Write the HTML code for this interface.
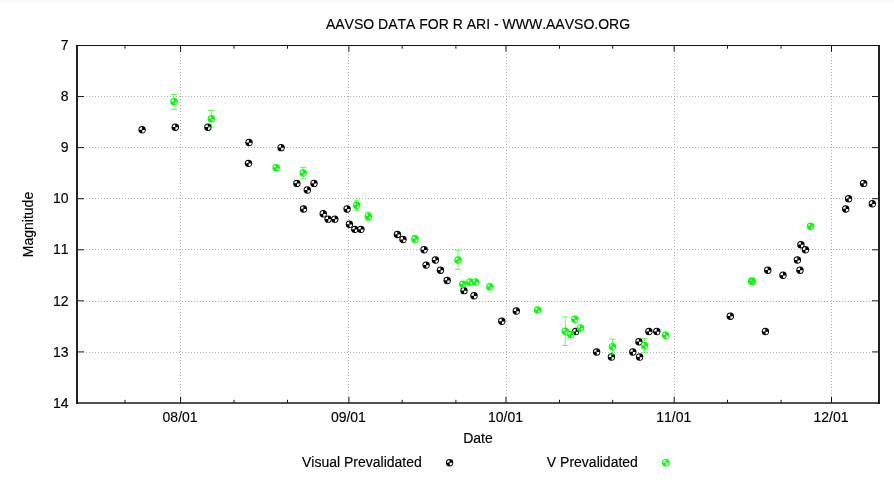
<!DOCTYPE html>
<html><head><meta charset="utf-8"><title>AAVSO DATA FOR R ARI</title>
<style>
html,body{margin:0;padding:0;background:#fff;}
body{width:894px;height:480px;overflow:hidden;}
svg{display:block;will-change:transform;}
text{font-family:"Liberation Sans",sans-serif;font-size:14px;fill:#000;font-kerning:none;stroke:#000;stroke-width:0.15px;}
</style></head><body>
<svg width="894" height="480" viewBox="0 0 894 480">
<defs>
<g id="mk"><circle r="3.7" fill="#000"/><path d="M-0.1 -0.1V-2.7A2.6 2.6 0 0 0 -2.7 -0.1ZM0.15 0.15V2.75A2.6 2.6 0 0 0 2.75 0.15Z" fill="#fff"/></g>
<g id="mg"><circle r="3.75" fill="#00ff00"/><path d="M-0.1 -0.1V-2.7A2.6 2.6 0 0 0 -2.7 -0.1ZM0.15 0.15V2.75A2.6 2.6 0 0 0 2.75 0.15Z" fill="#fff"/></g>
<g id="md"><circle r="3.75" fill="#00ff00"/><path d="M-0.4 -0.3V-2.55A2.25 2.25 0 0 0 -2.65 -0.3ZM0.5 0.45V2.7A2.25 2.25 0 0 0 2.75 0.45Z" fill="#fff"/></g>
</defs>
<rect width="894" height="480" fill="#fff"/>
<rect width="894" height="3" fill="#fafafa"/>

<g stroke="#adadad" stroke-width="1" stroke-dasharray="1 2" fill="none">
<path d="M86 96.5H872"/>
<path d="M86 147.5H872"/>
<path d="M86 198.5H872"/>
<path d="M86 249.5H872"/>
<path d="M86 301.5H872"/>
<path d="M86 352.5H872"/>
<path d="M180.5 54V396"/>
<path d="M348.5 54V396"/>
<path d="M506.5 54V396"/>
<path d="M674.5 54V396"/>
<path d="M831.5 54V396"/>
</g>
<g stroke="#111" stroke-width="1" fill="none">
<path d="M77.0 96.57h7M879.0 96.57h-7"/>
<path d="M77.0 147.64h7M879.0 147.64h-7"/>
<path d="M77.0 198.71h7M879.0 198.71h-7"/>
<path d="M77.0 249.79h7M879.0 249.79h-7"/>
<path d="M77.0 300.86h7M879.0 300.86h-7"/>
<path d="M77.0 351.93h7M879.0 351.93h-7"/>
<path d="M180.6 45.5v6.3M180.6 403.0v-6.3"/>
<path d="M348.9 45.5v6.3M348.9 403.0v-6.3"/>
<path d="M506.0 45.5v6.3M506.0 403.0v-6.3"/>
<path d="M674.2 45.5v6.3M674.2 403.0v-6.3"/>
<path d="M831.5 45.5v6.3M831.5 403.0v-6.3"/>
<path d="M125.0 45.5v3.2M125.0 403.0v-3.2"/>
<path d="M234.0 45.5v3.2M234.0 403.0v-3.2"/>
<path d="M287.5 45.5v3.2M287.5 403.0v-3.2"/>
<path d="M402.2 45.5v3.2M402.2 403.0v-3.2"/>
<path d="M455.9 45.5v3.2M455.9 403.0v-3.2"/>
<path d="M559.5 45.5v3.2M559.5 403.0v-3.2"/>
<path d="M612.7 45.5v3.2M612.7 403.0v-3.2"/>
<path d="M727.5 45.5v3.2M727.5 403.0v-3.2"/>
<path d="M781.1 45.5v3.2M781.1 403.0v-3.2"/>
</g>
<path d="M77.0 45.0V404.0M879.0 45.0V404.0" stroke="#222" stroke-width="2" fill="none"/>
<path d="M76.0 45.5H880.0" stroke="#111" stroke-width="1.2" fill="none"/>
<path d="M76.0 403.0H880.0" stroke="#181818" stroke-width="1.7" fill="none"/>
<g>
<use href="#mk" x="142.1" y="129.8"/>
<use href="#mk" x="175.3" y="127.21"/>
<use href="#mk" x="207.9" y="127.21"/>
<use href="#mk" x="249.0" y="142.54"/>
<use href="#mk" x="248.45" y="163.35"/>
<use href="#mk" x="281.1" y="147.64"/>
<use href="#mk" x="296.9" y="183.39"/>
<use href="#mk" x="314.0" y="183.39"/>
<use href="#mk" x="307.3" y="190.0"/>
<use href="#mk" x="303.5" y="208.93"/>
<use href="#mk" x="323.2" y="213.8"/>
<use href="#mk" x="328.1" y="219.14"/>
<use href="#mk" x="334.8" y="219.14"/>
<use href="#mk" x="347.1" y="208.93"/>
<use href="#mk" x="349.4" y="224.25"/>
<use href="#mk" x="354.8" y="229.36"/>
<use href="#mk" x="360.9" y="229.36"/>
<use href="#mk" x="397.4" y="234.46"/>
<use href="#mk" x="403.0" y="239.57"/>
<use href="#mk" x="424.1" y="249.79"/>
<use href="#mk" x="435.4" y="260.0"/>
<use href="#mk" x="426.1" y="265.11"/>
<use href="#mk" x="440.5" y="270.21"/>
<use href="#mk" x="447.2" y="280.43"/>
<use href="#mk" x="464.0" y="290.64"/>
<use href="#mk" x="474.0" y="295.75"/>
<use href="#mk" x="501.8" y="321.29"/>
<use href="#mk" x="516.3" y="311.07"/>
<use href="#mk" x="575.7" y="331.5"/>
<use href="#mk" x="596.6" y="351.93"/>
<use href="#mk" x="611.4" y="357.04"/>
<use href="#mk" x="632.8" y="351.93"/>
<use href="#mk" x="639.6" y="357.04"/>
<use href="#mk" x="638.9" y="341.71"/>
<use href="#mk" x="648.9" y="331.5"/>
<use href="#mk" x="656.8" y="331.5"/>
<use href="#mk" x="730.3" y="316.18"/>
<use href="#mk" x="765.4" y="331.5"/>
<use href="#mk" x="767.8" y="270.21"/>
<use href="#mk" x="783.0" y="275.32"/>
<use href="#mk" x="797.4" y="260.0"/>
<use href="#mk" x="800.0" y="270.21"/>
<use href="#mk" x="800.9" y="244.68"/>
<use href="#mk" x="805.4" y="249.79"/>
<use href="#mk" x="845.7" y="208.93"/>
<use href="#mk" x="848.6" y="198.71"/>
<use href="#mk" x="863.6" y="183.39"/>
<use href="#mk" x="872.3" y="203.82"/>
</g>
<g stroke="#00ff00" stroke-opacity="0.62" stroke-width="1" fill="none">
<path d="M174.1 94.5V109.45M170.9 94.5h6.4M170.9 109.45h6.4"/>
<path d="M211.4 110.4V126.9M208.20000000000002 110.4h6.4M208.20000000000002 126.9h6.4"/>
<path d="M303.2 167.4V178.9M300.0 167.4h6.4M300.0 178.9h6.4"/>
<path d="M356.7 200.2V210.2M353.5 200.2h6.4M353.5 210.2h6.4"/>
<path d="M368.4 212.1V220.4M365.2 212.1h6.4M365.2 220.4h6.4"/>
<path d="M415.0 235.7V242.9M411.8 235.7h6.4M411.8 242.9h6.4"/>
<path d="M458.0 250.3V269.4M454.8 250.3h6.4M454.8 269.4h6.4"/>
<path d="M565.3 316.9V345.5M562.0999999999999 316.9h6.4M562.0999999999999 345.5h6.4"/>
<path d="M612.5 339.2V354.4M609.3 339.2h6.4M609.3 354.4h6.4"/>
<path d="M644.5 338.3V352.9M641.3 338.3h6.4M641.3 352.9h6.4"/>
</g><g>
<use href="#md" x="174.1" y="101.7"/>
<use href="#md" x="211.4" y="118.7"/>
<use href="#md" x="276.15" y="167.65"/>
<use href="#md" x="303.2" y="173.1"/>
<use href="#md" x="356.7" y="205.2"/>
<use href="#md" x="368.4" y="216.4"/>
<use href="#md" x="415.0" y="239.1"/>
<use href="#md" x="458.0" y="260.0"/>
<use href="#md" x="462.8" y="284.3"/>
<use href="#md" x="469.8" y="281.9"/>
<use href="#md" x="475.4" y="281.9"/>
<use href="#md" x="489.9" y="286.8"/>
<use href="#md" x="537.6" y="310.1"/>
<use href="#md" x="574.8" y="319.3"/>
<use href="#md" x="565.3" y="331.3"/>
<use href="#md" x="570.7" y="334.5"/>
<use href="#md" x="580.4" y="327.9"/>
<use href="#md" x="612.5" y="346.7"/>
<use href="#md" x="644.5" y="345.5"/>
<use href="#md" x="665.5" y="335.2"/>
<g transform="translate(752.0 281.2)"><circle r="4.05" fill="#00ff00"/><circle cx="-1.05" cy="-1.15" r="0.9" fill="#fff" fill-opacity="0.5"/><circle cx="0.85" cy="1.5" r="0.9" fill="#fff" fill-opacity="0.4"/></g>
<use href="#md" x="810.6" y="226.2"/>
</g>
<text x="478" y="28.8" text-anchor="middle">AAVSO DATA FOR R ARI - WWW.AAVSO.ORG</text>
<text x="68.6" y="50.1" text-anchor="end">7</text>
<text x="68.6" y="101.2" text-anchor="end">8</text>
<text x="68.6" y="152.2" text-anchor="end">9</text>
<text x="68.6" y="203.3" text-anchor="end">10</text>
<text x="68.6" y="254.4" text-anchor="end">11</text>
<text x="68.6" y="305.5" text-anchor="end">12</text>
<text x="68.6" y="356.5" text-anchor="end">13</text>
<text x="68.6" y="407.6" text-anchor="end">14</text>
<text x="180.1" y="422.3" text-anchor="middle">08/01</text>
<text x="348.4" y="422.3" text-anchor="middle">09/01</text>
<text x="505.5" y="422.3" text-anchor="middle">10/01</text>
<text x="673.7" y="422.3" text-anchor="middle">11/01</text>
<text x="831.0" y="422.3" text-anchor="middle">12/01</text>
<text x="478" y="442.9" text-anchor="middle">Date</text>
<text transform="translate(33 224.5) rotate(-90)" text-anchor="middle">Magnitude</text>
<text x="421.8" y="467" text-anchor="end">Visual Prevalidated</text>
<text x="637.9" y="467" text-anchor="end">V Prevalidated</text>
<use href="#mk" x="449.6" y="462.7"/>
<use href="#mg" x="665.75" y="462.7"/>
</svg></body></html>
